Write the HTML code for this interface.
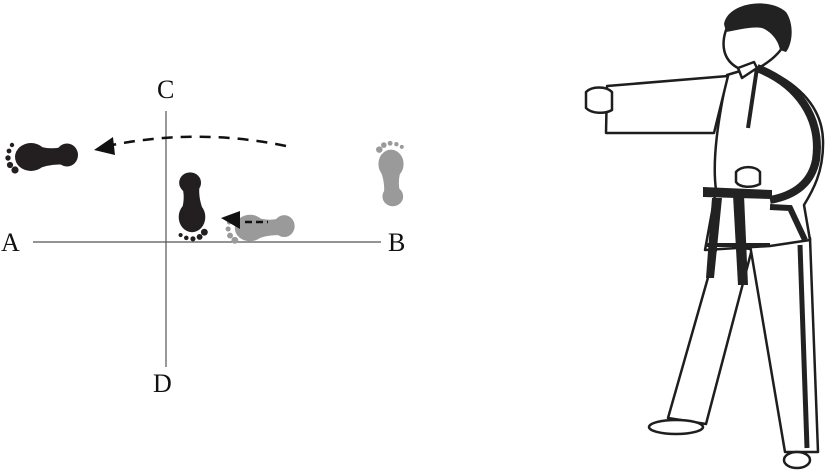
<!DOCTYPE html>
<html><head><style>
html,body{margin:0;padding:0;background:#fff;width:828px;height:470px;overflow:hidden}
svg{display:block}
text{font-family:"Liberation Serif",serif;font-size:26px;fill:#111}
</style></head><body>
<svg width="828" height="470" viewBox="0 0 828 470">
<defs>
<g id="fp">
<ellipse cx="0" cy="0" rx="16" ry="14"/>
<ellipse cx="36" cy="-2" rx="11" ry="11.5"/>
<path d="M4,-12 Q20,-6 34,-11 L34,8 Q20,6 4,13 Z"/>
<circle cx="-19" cy="-12" r="2.2"/>
<circle cx="-22" cy="-6" r="2.4"/>
<circle cx="-23" cy="1" r="2.7"/>
<circle cx="-21" cy="8" r="3.1"/>
<circle cx="-16" cy="13" r="3.6"/>
</g>
</defs>
<line x1="33" y1="242" x2="381" y2="242" stroke="#555" stroke-width="1.2"/>
<line x1="166" y1="111" x2="166" y2="367" stroke="#555" stroke-width="1.2"/>
<text x="157" y="98">C</text>
<text x="1" y="251">A</text>
<text x="388" y="251">B</text>
<text x="153" y="392">D</text>
<path d="M286,146 Q200,128 112,145" fill="none" stroke="#111" stroke-width="2.5" stroke-dasharray="11,8"/>
<polygon points="94,150 113,137 115,155" fill="#111"/>
<use href="#fp" transform="translate(31,157)" fill="#231f20"/>
<use href="#fp" transform="translate(192,217) rotate(-90) scale(0.95)" fill="#231f20"/>
<use href="#fp" transform="translate(250,228) scale(0.95)" fill="#9a9a9a"/>
<use href="#fp" transform="translate(391,164) rotate(90) scale(0.9)" fill="#9a9a9a"/>
<line x1="245" y1="222" x2="268" y2="222" stroke="#111" stroke-width="2.5" stroke-dasharray="7,4"/>
<polygon points="221,218 240,211 240,229" fill="#111"/>
<g stroke="#1e1e1e" stroke-width="2.5" stroke-linejoin="round" fill="#fff">
<path d="M717,246 L752,249 L706,424 L668,418 Z"/>
<path d="M750,245 L810,238 L818,452 L785,452 Z"/>
<ellipse cx="676" cy="427" rx="27" ry="7"/>
<ellipse cx="797" cy="460" rx="13" ry="8"/>
<path d="M727,75 L757,66 C795,80 822,105 823,140 C824,172 812,192 804,205 L810,240 L770,246 L705,250 L716,190 C712,160 718,120 727,77 Z"/>
<path d="M728,76 L607,86 L606,133 L714,133 Z"/>
<path d="M586,92 C592,86 606,86 612,92 L612,110 C605,114 592,114 586,108 Z"/>
<path d="M726,30 C721,45 723,60 738,68 L755,70 C770,62 782,52 786,40 L786,25 L760,20 Z"/>
<path d="M738,68 L742,78 L757,68 L754,62 Z"/>
<path d="M736,172 C742,165 756,166 760,172 L760,184 C752,188 740,188 736,182 Z"/>
</g>
<path d="M724,24 C728,2 770,-3 786,12 C795,25 792,45 786,52 L780,50 C778,38 768,30 762,28 C752,26 738,30 726,32 Z" fill="#222"/>
<path d="M757,68 C798,84 822,118 816,160 C811,185 792,196 770,200" fill="none" stroke="#222" stroke-width="8"/>
<path d="M757,68 L748,128" fill="none" stroke="#222" stroke-width="4"/>
<polygon points="703,187 772,190 772,199 703,197" fill="#222"/>
<polygon points="733,195 744,195 748,285 738,285" fill="#222"/>
<polygon points="712,198 722,198 714,278 706,278" fill="#222"/>
<path d="M705,245 L770,245" stroke="#222" stroke-width="4"/>
<path d="M770,207 L790,208 L805,240" fill="none" stroke="#222" stroke-width="6"/>
<line x1="800" y1="245" x2="807" y2="448" stroke="#222" stroke-width="5"/>
</svg>
</body></html>
